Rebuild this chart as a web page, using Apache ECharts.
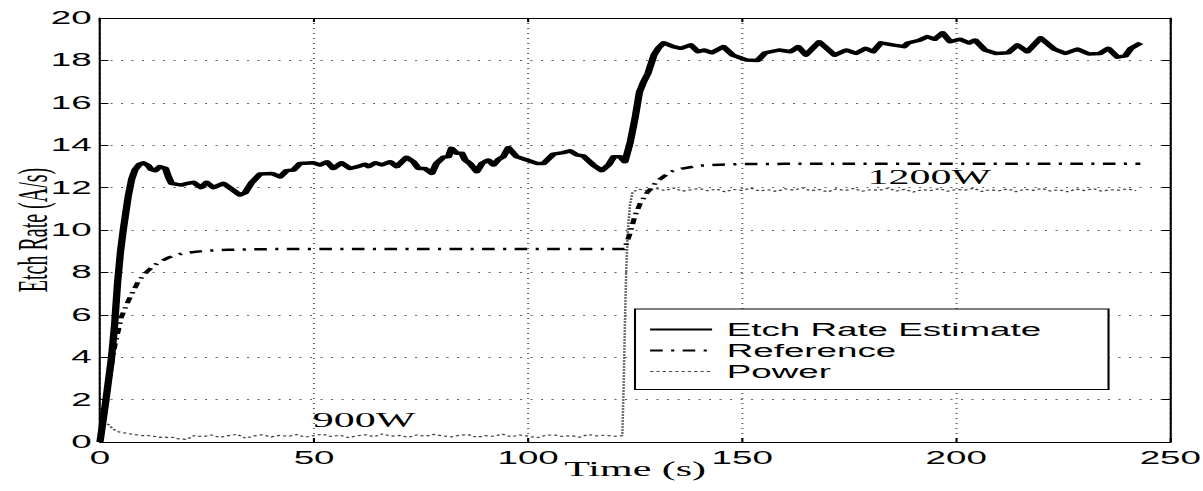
<!DOCTYPE html>
<html>
<head>
<meta charset="utf-8">
<script src="https://cdn.jsdelivr.net/npm/echarts@6/dist/echarts.min.js"></script>
<style>
  html, body { margin: 0; padding: 0; background: #fff; overflow: hidden; width: 1203px; height: 491px; }
  #chart { height: 491px; transform-origin: 0 0; }
</style>
</head>
<body>
<div id="chart"></div>
<script>
// Etch rate estimate [time s, rate A/s]
const etchEstimate = [
  [0,0],[1.4,2.0],[2.7,4.0],[3.4,5.5],[4.1,7.5],[4.8,9.0],[5.5,10.1],[6.6,11.6],[7.4,12.4],[8.2,12.85],
  [9.2,13.1],[10.1,13.17],[11.2,13.05],[12.0,12.85],[12.9,12.8],[14.0,12.99],[15.3,12.9],[16.0,12.5],
  [16.7,12.2],[18.0,12.15],[19.1,12.12],[20.5,12.2],[21.8,12.25],[23.6,12.0],[24.9,12.25],[26.5,12.0],
  [28.8,12.2],[30.8,11.92],[32.7,11.65],[33.9,11.76],[35.4,12.23],[37.4,12.64],[40.1,12.67],[42.1,12.51],
  [43.6,12.8],[45.2,12.83],[46.7,13.14],[49.8,13.17],[51.4,13.07],[53.0,13.22],[54.5,12.9],[56.4,13.17],
  [58.4,12.9],[60.4,13.0],[61.9,13.1],[62.7,12.99],[64.3,13.17],[65.8,13.07],[67.8,13.22],[69.3,12.99],
  [71.6,13.43],[73.2,13.22],[74.4,12.9],[75.9,12.9],[77.5,12.67],[78.6,13.14],[80.2,13.43],[81.4,13.46],
  [82.1,13.85],[83.3,13.62],[84.5,13.62],[85.3,13.3],[86.4,13.14],[88.0,12.75],[89.2,13.14],[90.7,13.3],
  [91.9,13.07],[93.1,13.33],[94.2,13.46],[95.4,13.88],[97.3,13.46],[99.7,13.3],[102.0,13.14],[103.6,13.14],
  [105.9,13.58],[108.2,13.65],[109.8,13.74],[111.4,13.54],[112.9,13.49],[115.2,13.07],[117.2,12.8],
  [118.8,13.07],[120.0,13.46],[121.5,13.46],[122.6,13.22],[123.8,14.09],[125.0,15.3],[126.0,16.5],
  [127.0,17.0],[128.0,17.39],[129.4,18.25],[130.5,18.6],[131.7,18.83],[133.9,18.65],[135.7,18.57],
  [138.0,18.73],[139.7,18.41],[141.1,18.49],[142.9,18.36],[145.6,18.65],[147.8,18.25],[150.9,18.02],
  [153.6,17.99],[155.4,18.36],[158.6,18.49],[161.3,18.41],[163.1,18.65],[164.9,18.25],[168.0,18.88],
  [171.6,18.25],[174.3,18.49],[176.6,18.33],[178.8,18.57],[180.6,18.41],[182.4,18.83],[185.1,18.73],
  [187.8,18.65],[188.7,18.82],[191.4,18.95],[193.2,19.12],[195.0,19.0],[196.8,19.3],[198.6,18.88],
  [200.8,19.0],[203.0,18.82],[204.4,18.96],[206.7,18.49],[209.3,18.33],[212.1,18.36],[214.3,18.73],
  [216.6,18.41],[219.7,19.06],[222.9,18.53],[225.5,18.33],[228.3,18.53],[231.0,18.3],[233.6,18.33],
  [235.5,18.57],[237.7,18.15],[239.5,18.21],[240.8,18.57],[243.1,18.83]
];

// Reference trajectory [time s, rate A/s]
const referenceRate = [
  [0,0],[1,1.4],[2,2.8],[3.5,4.6],[5,5.9],[6.6,6.65],[9,7.6],[11.3,8.1],[13.5,8.45],[16,8.7],
  [19.3,8.9],[24.5,9.02],[30,9.07],[40,9.1],[60,9.1],[80,9.1],[100,9.1],[122.5,9.1],[123.8,9.84],
  [125.0,10.7],[126.2,11.26],[127.7,11.73],[130.0,12.28],[133.2,12.75],[136.3,12.91],[140.2,13.04],
  [144.9,13.08],[149.5,13.11],[160,13.12],[200,13.12],[243,13.12]
];

// Scaled RF power [time s, value]
const powerTrace = [
  [0,0],[0.5,0.6],[1,0.9],[2,0.82],[3,0.62],[4,0.5],[5,0.45],[6,0.42],[7,0.38],[8,0.35],[9,0.33],
  [10,0.30],[11,0.32],[12,0.27],[13,0.26],[14,0.22],[15,0.24],[16,0.2],[17,0.22],[18,0.16],[19,0.14],
  [20,0.12],[21,0.2],[22,0.30],[24,0.25],[26,0.33],[28,0.22],[30,0.30],[32,0.36],[34,0.18],[36,0.29],
  [38,0.34],[40,0.24],[42,0.31],[44,0.27],[46,0.35],[48,0.23],[50,0.30],[52,0.37],[54,0.26],[56,0.32],
  [58,0.21],[60,0.29],[62,0.34],[64,0.25],[66,0.38],[68,0.28],[70,0.31],[72,0.22],[74,0.33],[76,0.27],
  [78,0.36],[80,0.29],[82,0.24],[84,0.32],[86,0.35],[88,0.22],[90,0.30],[92,0.27],[94,0.37],[96,0.25],
  [98,0.33],[100,0.28],[102,0.20],[104,0.31],[106,0.34],[108,0.26],[110,0.30],[112,0.23],[114,0.35],
  [116,0.29],[118,0.32],[120,0.27],[122,0.30],
  [122.3,2.5],[122.6,5.5],[122.9,8.0],[123.3,10.0],[123.8,11.2],[124.4,11.8],
  [126,11.92],[128,11.84],[130,11.95],[132,11.86],[134,11.98],[136,11.83],[138,11.9],[140,11.96],
  [142,11.85],[144,11.93],[146,11.8],[148,11.91],[150,11.87],[152,11.97],[154,11.84],[156,11.9],
  [158,11.82],[160,11.94],[162,11.88],[164,11.99],[166,11.85],[168,11.91],[170,11.8],[172,11.93],
  [174,11.86],[176,11.96],[178,11.83],[180,11.9],[182,11.87],[184,11.97],[186,11.84],[188,11.92],
  [190,11.79],[192,11.9],[194,11.86],[196,11.95],[198,11.83],[200,11.91],[202,11.88],[204,11.97],
  [206,11.82],[208,11.9],[210,11.85],[212,11.94],[214,11.81],[216,11.92],[218,11.87],[220,11.96],
  [222,11.84],[224,11.9],[226,11.8],[228,11.93],[230,11.86],[232,11.95],[234,11.83],[236,11.9],
  [238,11.88],[240,11.94],[242,11.85]
];

// Power level annotations
const noteText = ['900W', '1200W'];
const noteX = [61.7, 193.7];
const noteY = [1.0, 12.48];

const seriesNames = ['Etch Rate Estimate', 'Reference', 'Power'];

// The figure has a wide aspect: draw on a narrow canvas and stretch it horizontally.
const STRETCH = 2.1;
const W = 1203, H = 491;
const el = document.getElementById('chart');
el.style.width = (W / STRETCH) + 'px';
el.style.transform = 'scaleX(' + STRETCH + ')';

const chart = echarts.init(el, null, { renderer: 'svg' });

const sans = 'Liberation Sans, Arial, sans-serif';
const serif = 'Liberation Serif, Times New Roman, serif';
const gridDots = { type: [1, 4], color: '#666', width: 1 };

const frameAxis = {
  type: 'value',
  axisLine: { show: true, onZero: false, lineStyle: { color: '#000', width: 1 } },
  axisTick: { show: true, inside: true, length: 4, lineStyle: { color: '#000' } },
  axisLabel: { show: false },
  splitLine: { show: false }
};

chart.setOption({
  animation: false,
  backgroundColor: '#fff',
  grid: {
    left: 100 / STRETCH, right: 33 / STRETCH, top: 18, bottom: 49,
    containLabel: false, outerBoundsMode: 'none'
  },
  xAxis: [
    {
      type: 'value', min: 0, max: 250, interval: 50,
      name: 'Time (s)', nameLocation: 'middle', nameGap: 17, nameMoveOverlap: false,
      nameTextStyle: { fontFamily: serif, fontSize: 20, color: '#000' },
      axisLine: { show: true, onZero: false, lineStyle: { color: '#000', width: 1 } },
      axisTick: { show: true, inside: true, length: 4, lineStyle: { color: '#000' } },
      axisLabel: { color: '#000', fontFamily: sans, fontSize: 17.5, margin: 7 },
      splitLine: { show: true, lineStyle: gridDots }
    },
    Object.assign({ position: 'top', min: 0, max: 250, interval: 50 }, frameAxis)
  ],
  yAxis: [
    {
      type: 'value', min: 0, max: 20, interval: 2,
      name: 'Etch Rate (A/s)', nameLocation: 'middle', nameGap: 22, nameRotate: 90,
      nameMoveOverlap: false,
      nameTextStyle: { fontFamily: serif, fontSize: 20, color: '#000' },
      axisLine: { show: true, onZero: false, lineStyle: { color: '#000', width: 1 } },
      axisTick: { show: true, inside: true, length: 4, lineStyle: { color: '#000' } },
      axisLabel: { color: '#000', fontFamily: sans, fontSize: 17.5, margin: 4 },
      splitLine: { show: true, lineStyle: gridDots }
    },
    Object.assign({ position: 'right', min: 0, max: 20, interval: 2 }, frameAxis)
  ],
  legend: {
    orient: 'vertical',
    left: 635 / STRETCH, top: 309,
    itemWidth: 29.5, itemHeight: 18, itemGap: 3,
    padding: [11.5, 32, 9, 6.2],
    borderColor: '#000', borderWidth: 1, borderRadius: 0,
    backgroundColor: '#fff',
    selectedMode: false,
    itemStyle: { opacity: 0 },
    textStyle: { fontFamily: sans, fontSize: 17.5, color: '#000', padding: [0, 0, 0, 2] },
    data: [
      { name: seriesNames[0], lineStyle: { width: 2 } },
      { name: seriesNames[1], lineStyle: { width: 2 } },
      { name: seriesNames[2], lineStyle: { width: 1 } }
    ]
  },
  series: [
    {
      name: seriesNames[2], type: 'line', data: powerTrace, symbol: 'none', z: 2,
      itemStyle: { color: '#444' },
      lineStyle: { color: '#444', width: 1.2, type: [1.5, 1.5] },
      markPoint: {
        symbol: 'circle', symbolSize: 0, silent: true,
        label: { show: true, position: 'inside', formatter: p => p.name,
                 fontFamily: serif, fontSize: 20, color: '#000' },
        data: noteText.map((t, i) => ({ name: t, coord: [noteX[i], noteY[i]] }))
      }
    },
    {
      name: seriesNames[1], type: 'line', data: referenceRate, symbol: 'none', z: 3,
      itemStyle: { color: '#000' },
      lineStyle: { color: '#000', width: 2.5, type: [6, 4, 1.5, 4] }
    },
    {
      name: seriesNames[0], type: 'line', data: etchEstimate, symbol: 'none', z: 4,
      itemStyle: { color: '#000' },
      lineStyle: { color: '#000', width: 3.5, type: 'solid', join: 'round' }
    }
  ]
});
</script>
</body>
</html>
